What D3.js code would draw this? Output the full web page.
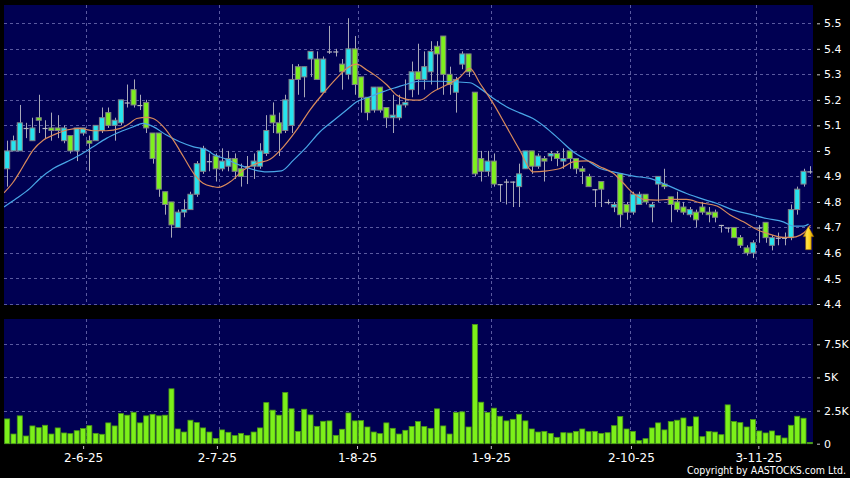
<!DOCTYPE html>
<html><head><meta charset="utf-8">
<script src="https://cdn.jsdelivr.net/npm/d3@7"></script>
<style>html,body{margin:0;padding:0;background:#000;}svg{display:block;}</style>
</head><body>
<svg id="c" width="850" height="478"></svg>
<script>
// ---------- DATA ----------
const dates = [
 '15-5-25','16-5-25','19-5-25','20-5-25','21-5-25','22-5-25','23-5-25','26-5-25','27-5-25','28-5-25','29-5-25','30-5-25',
 '2-6-25','3-6-25','4-6-25','5-6-25','6-6-25','9-6-25','10-6-25','11-6-25','12-6-25','13-6-25','16-6-25','17-6-25','18-6-25','19-6-25','20-6-25','23-6-25','24-6-25','25-6-25','26-6-25','27-6-25','30-6-25',
 '2-7-25','3-7-25','4-7-25','7-7-25','8-7-25','9-7-25','10-7-25','11-7-25','14-7-25','15-7-25','16-7-25','17-7-25','18-7-25','21-7-25','22-7-25','23-7-25','24-7-25','25-7-25','28-7-25','29-7-25','30-7-25','31-7-25',
 '1-8-25','4-8-25','5-8-25','6-8-25','7-8-25','8-8-25','11-8-25','12-8-25','13-8-25','14-8-25','15-8-25','18-8-25','19-8-25','20-8-25','21-8-25','22-8-25','25-8-25','26-8-25','27-8-25','28-8-25','29-8-25',
 '1-9-25','2-9-25','3-9-25','4-9-25','5-9-25','8-9-25','9-9-25','10-9-25','11-9-25','12-9-25','15-9-25','16-9-25','17-9-25','18-9-25','19-9-25','22-9-25','23-9-25','24-9-25','25-9-25','26-9-25','29-9-25','30-9-25',
 '2-10-25','3-10-25','6-10-25','8-10-25','9-10-25','10-10-25','13-10-25','14-10-25','15-10-25','16-10-25','17-10-25','20-10-25','21-10-25','22-10-25','23-10-25','24-10-25','27-10-25','28-10-25','30-10-25','31-10-25',
 '3-11-25','4-11-25','5-11-25','6-11-25','7-11-25','10-11-25','11-11-25','12-11-25','13-11-25','14-11-25'
];
const open = [4.93,5.00,5.00,5.09,5.04,5.13,5.09,5.09,5.09,5.04,5.06,5.00,5.07,5.04,5.04,5.08,5.15,5.10,5.11,5.19,
 5.24,5.18,5.19,5.07,5.07,4.84,4.80,4.70,4.76,4.77,4.83,4.92,4.96,4.98,4.93,4.94,4.97,4.93,4.94,4.94,
 4.94,4.99,5.14,5.11,5.08,5.10,5.33,5.29,5.36,5.36,5.23,5.39,5.39,5.34,5.30,5.40,5.29,5.21,5.16,5.25,
 5.17,5.13,5.13,5.18,5.24,5.31,5.28,5.31,5.41,5.45,5.30,5.23,5.34,5.38,5.23,4.97,4.92,4.96,4.87,4.88,
 4.88,4.86,4.93,5.00,4.94,4.97,4.98,4.99,4.96,5.00,4.97,4.93,4.90,4.85,4.88,4.80,4.78,4.91,4.79,4.76,
 4.79,4.83,4.78,4.87,4.87,4.82,4.80,4.78,4.75,4.76,4.78,4.76,4.76,4.71,4.70,4.70,4.66,4.62,4.60,4.70,
 4.72,4.63,4.66,4.66,4.66,4.77,4.87,4.92];
const high = [5.04,5.06,5.18,5.11,5.13,5.22,5.12,5.15,5.14,5.10,5.06,5.09,5.09,5.06,5.10,5.17,5.17,5.13,5.20,5.26,
 5.28,5.22,5.20,5.07,5.07,4.84,4.80,4.77,4.81,4.84,4.96,5.02,4.99,4.99,5.01,5.00,4.99,4.95,4.98,4.99,
 5.03,5.14,5.19,5.15,5.22,5.34,5.34,5.33,5.39,5.39,5.37,5.49,5.40,5.36,5.52,5.45,5.29,5.21,5.25,5.25,
 5.17,5.22,5.22,5.28,5.35,5.42,5.39,5.43,5.43,5.45,5.33,5.29,5.39,5.38,5.23,5.00,5.00,4.99,4.87,4.89,
 4.88,4.95,5.00,5.00,4.99,4.98,5.00,5.00,5.01,5.00,4.97,4.94,4.91,4.85,4.88,4.81,4.80,4.91,4.80,4.84,
 4.84,4.83,4.80,4.90,4.93,4.82,4.84,4.80,4.78,4.77,4.80,4.78,4.77,4.71,4.70,4.70,4.67,4.63,4.65,4.71,
 4.72,4.67,4.68,4.68,4.79,4.86,4.93,4.94];
const low = [4.86,5.00,5.00,5.05,5.04,5.07,5.05,5.04,5.05,5.03,4.99,4.96,5.06,4.92,5.04,5.07,5.09,5.04,5.10,5.17,
 5.17,5.16,5.07,4.95,4.82,4.75,4.66,4.70,4.74,4.77,4.82,4.91,4.92,4.88,4.92,4.92,4.89,4.86,4.87,4.89,
 4.93,4.98,5.07,4.98,5.07,5.07,5.22,5.21,5.29,5.28,5.23,5.38,5.37,5.24,5.28,5.22,5.15,5.12,5.15,5.15,
 5.09,5.07,5.12,5.17,5.21,5.22,5.24,5.26,5.24,5.22,5.22,5.15,5.32,5.29,4.90,4.88,4.90,4.86,4.80,4.79,
 4.78,4.78,4.93,4.91,4.93,4.88,4.96,4.94,4.93,4.93,4.91,4.87,4.86,4.78,4.78,4.79,4.76,4.70,4.73,4.75,
 4.79,4.79,4.72,4.80,4.85,4.72,4.76,4.75,4.74,4.70,4.75,4.72,4.72,4.68,4.68,4.66,4.62,4.59,4.58,4.64,
 4.64,4.61,4.63,4.63,4.65,4.75,4.86,4.91];
const close = [5.00,5.04,5.11,5.09,5.09,5.12,5.09,5.08,5.08,5.09,5.00,5.09,5.09,5.03,5.10,5.13,5.10,5.12,5.20,5.19,
 5.18,5.18,5.09,4.97,4.85,4.79,4.71,4.76,4.77,4.83,4.95,5.01,4.96,4.93,4.96,4.97,4.92,4.90,4.94,4.96,
 5.00,5.08,5.11,5.07,5.20,5.28,5.28,5.33,5.39,5.28,5.36,5.39,5.39,5.31,5.40,5.26,5.21,5.15,5.25,5.16,
 5.13,5.14,5.18,5.19,5.31,5.28,5.33,5.39,5.38,5.30,5.26,5.28,5.38,5.31,4.91,4.92,4.96,4.87,4.87,4.88,
 4.88,4.91,5.00,4.94,4.98,4.96,4.99,4.97,4.97,4.97,4.93,4.92,4.86,4.85,4.85,4.80,4.79,4.75,4.76,4.83,
 4.83,4.80,4.79,4.90,4.86,4.79,4.77,4.76,4.77,4.73,4.76,4.75,4.74,4.71,4.70,4.66,4.63,4.60,4.64,4.70,
 4.66,4.66,4.66,4.66,4.77,4.85,4.92,4.92];
const volume = [1870,730,2100,580,1340,1210,1390,730,1190,810,760,980,1140,1360,780,710,1570,1340,2270,2150,
 2370,1570,2100,2220,2100,2150,4140,1110,880,1770,1590,1190,880,400,1040,860,610,780,630,880,
 1190,3100,2530,2150,3860,2630,930,2600,2170,1310,1690,1720,630,1090,2320,1720,1740,1260,880,760,
 1570,1160,730,1010,1300,1670,1290,1160,2630,1340,730,2350,2400,1260,9000,3130,2350,2680,2070,1720,
 1840,2220,1720,1110,880,930,780,480,830,810,930,1110,910,930,780,830,1360,2050,1110,930,
 230,380,1190,1570,1040,1670,1770,1940,1310,2020,530,930,880,680,2930,1670,1590,1260,1820,960,
 810,960,610,430,1390,2070,1920,100];
// moving averages: [candle index, value]
const maShort = [[-0.5,4.836],[1.0,4.879],[2.0,4.918],[3.1,4.964],[4.1,5.003],[5.7,5.042],[7.3,5.062],[9.4,5.082],[11.5,5.088],[13.6,5.079],[15.7,5.079],[17.9,5.088],[19.4,5.108],[20.5,5.127],[22.1,5.131],[23.1,5.127],[24.7,5.095],[26.3,5.042],[27.9,4.977],[29.5,4.912],[31.0,4.873],[32.6,4.86],[33.4,4.857],[35.3,4.879],[37.4,4.925],[39.5,4.951],[41.6,4.967],[43.7,5.016],[45.8,5.082],[47.9,5.16],[50.0,5.225],[52.1,5.284],[53.7,5.323],[55.3,5.34],[56.9,5.317],[58.5,5.291],[60.1,5.258],[61.6,5.219],[63.2,5.202],[64.3,5.199],[65.3,5.199],[67.4,5.232],[69.5,5.258],[71.6,5.288],[73.2,5.323],[74.8,5.265],[76.9,5.186],[79.0,5.095],[81.1,5.003],[83.2,4.918],[85.4,4.922],[87.5,4.931],[89.6,4.957],[91.7,4.961],[93.8,4.938],[95.9,4.912],[97.5,4.873],[99.1,4.833],[100.7,4.81],[102.8,4.807],[104.9,4.81],[107.5,4.81],[109.6,4.797],[112.3,4.784],[114.4,4.749],[116.5,4.722],[118.6,4.692],[120.7,4.673],[122.8,4.661],[124.1,4.661],[125.5,4.670],[126.5,4.689],[127.1,4.709]];
const maLong = [[-0.5,4.78],[1.5,4.814],[3.6,4.853],[5.2,4.892],[7.3,4.931],[9.4,4.957],[11.5,4.984],[13.6,5.016],[15.7,5.049],[17.9,5.075],[20.0,5.095],[21.5,5.108],[23.1,5.095],[25.2,5.062],[27.3,5.036],[29.5,5.016],[31.6,5.003],[32.6,4.987],[34.7,4.967],[36.8,4.944],[38.9,4.927],[41.1,4.918],[43.4,4.922],[45.3,4.964],[47.4,5.016],[49.5,5.075],[51.6,5.118],[53.7,5.16],[55.3,5.193],[57.4,5.212],[59.5,5.232],[61.6,5.249],[63.7,5.265],[65.3,5.273],[68.5,5.273],[73.2,5.267],[74.8,5.245],[76.9,5.206],[79.0,5.173],[81.1,5.149],[83.2,5.127],[85.4,5.088],[87.5,5.042],[89.6,4.996],[91.7,4.964],[93.8,4.931],[95.9,4.918],[97.0,4.912],[99.1,4.901],[101.7,4.892],[104.4,4.866],[107.5,4.833],[110.2,4.81],[112.3,4.794],[114.9,4.768],[117.5,4.752],[120.2,4.735],[122.8,4.722],[124.4,4.705],[126.0,4.705],[126.8,4.713]];
const priceTicks = [4.4,4.5,4.6,4.7,4.8,4.9,5.0,5.1,5.2,5.3,5.4,5.5];
const volumeTicks = [0,2500,5000,7500];
const volumeTickLabels = ['0','2.5K','5K','7.5K'];
const arrowPrice = 4.705;

// ---------- CHART ----------
const svg = d3.select('#c');
const FONT = "'DejaVu Sans', Verdana, sans-serif";
const P = {l:4, r:813, t:5, b:305};
const V = {t:319, b:444};
const N = dates.length;
const x = d3.scaleBand().domain(d3.range(N)).range([P.l, P.r]).paddingInner(0.2).paddingOuter(0.1);
const step = x.step(), bw = x.bandwidth();
const cx = i => x(i) + bw/2;
const xi = d3.scaleLinear().domain([0, N-1]).range([cx(0), cx(N-1)]);
// date-label positions (the source places its labels on a slightly wider grid)
const xLab = d3.scaleBand().domain(d3.range(N-1)).range([P.l, P.r]);
const y = d3.scaleLinear().domain([4.4, 5.5]).range([304, 23.3]);
const yv = d3.scaleLinear().domain([0, 7500]).range([443.7, 344.3]);

const navy = '#000052';
const gridC = '#5a5aa0';
svg.append('rect').attr('width',850).attr('height',478).attr('fill','#000');
svg.append('rect').attr('x',P.l).attr('y',P.t).attr('width',P.r-P.l).attr('height',P.b-P.t).attr('fill',navy);
svg.append('rect').attr('x',P.l).attr('y',V.t).attr('width',P.r-P.l).attr('height',V.b-V.t).attr('fill',navy);

const defs = svg.append('defs');
defs.append('clipPath').attr('id','cp').append('rect').attr('x',P.l).attr('y',P.t).attr('width',P.r-P.l).attr('height',P.b-P.t);
const g = defs.append('linearGradient').attr('id','ag').attr('x1','0').attr('x2','1').attr('y1','0').attr('y2','0');
[['0','#b87a00'],['0.35','#ffe24a'],['0.6','#ffd21a'],['1','#c08400']].forEach(s=>g.append('stop').attr('offset',s[0]).attr('stop-color',s[1]));

// month-start indices
const monthStarts = d3.range(1, N).filter(i => dates[i].split('-')[1] !== dates[i-1].split('-')[1]);

// grid
const grid = svg.append('g').attr('stroke',gridC).attr('stroke-width',1).attr('stroke-dasharray','3,3').attr('shape-rendering','crispEdges');
priceTicks.forEach(p => grid.append('line').attr('x1',P.l).attr('x2',P.r).attr('y1',Math.round(y(p))+0.5).attr('y2',Math.round(y(p))+0.5));
volumeTicks.slice(1).forEach(v => grid.append('line').attr('x1',P.l).attr('x2',P.r).attr('y1',Math.round(yv(v))+0.5).attr('y2',Math.round(yv(v))+0.5));
monthStarts.forEach(i => {
  const gx = Math.round(cx(i) + step/2) + 0.5;
  grid.append('line').attr('x1',gx).attr('x2',gx).attr('y1',P.t).attr('y2',P.b);
  grid.append('line').attr('x1',gx).attr('x2',gx).attr('y1',V.t).attr('y2',V.b);
});

// candles
const cg = svg.append('g').attr('clip-path','url(#cp)');
const idx = d3.range(N);
cg.selectAll('line.w').data(idx).join('line')
  .attr('x1',i=>Math.round(cx(i))+0.5).attr('x2',i=>Math.round(cx(i))+0.5)
  .attr('y1',i=>y(high[i])).attr('y2',i=>y(low[i]))
  .attr('stroke','#a8a8b8').attr('stroke-width',1);
cg.selectAll('rect.b').data(idx).join('rect')
  .attr('x',i=>x(i)).attr('width',bw)
  .attr('y',i=>y(Math.max(open[i],close[i])))
  .attr('height',i=>Math.max(1.2, Math.abs(y(open[i])-y(close[i]))))
  .attr('fill',i=> close[i]>open[i] ? '#26e4ee' : (close[i]<open[i] ? '#7ef01e' : '#b8b8c0'))
  .attr('stroke',i=> close[i]===open[i] ? 'none' : '#808088').attr('stroke-width',1);

// moving averages
const line = d3.line().x(d=>xi(d[0])).y(d=>y(d[1])).curve(d3.curveMonotoneX);
cg.append('path').datum(maLong).attr('d',line).attr('fill','none').attr('stroke','#49a6e6').attr('stroke-width',1.2);
cg.append('path').datum(maShort).attr('d',line).attr('fill','none').attr('stroke','#d98a5c').attr('stroke-width',1.2);

// arrow annotation
const ax = cx(N-1) - 1.5, ay = y(arrowPrice);
svg.append('path')
  .attr('d',`M${ax},${ay} L${ax+5.5},${ay+10.5} L${ax+3},${ay+10.5} L${ax+3},${ay+23.5} L${ax-2.8},${ay+23.5} L${ax-2.8},${ay+10.5} L${ax-5.3},${ay+10.5} Z`)
  .attr('fill','url(#ag)').attr('stroke','#8a5a00').attr('stroke-width',0.5);

// volume bars
svg.append('g').selectAll('rect').data(idx).join('rect')
  .attr('x',i=>x(i)).attr('width',bw)
  .attr('y',i=>yv(volume[i])).attr('height',i=>yv(0)-yv(volume[i]))
  .attr('fill','#7cf01a').attr('stroke','#4a9a14').attr('stroke-width',0.8);

// axes
const styleAxis = (size) => sel => {
  sel.select('.domain').remove();
  sel.selectAll('text').attr('fill','#fff').style('font-family',FONT).style('font-size',size);
  sel.selectAll('line').attr('stroke','#c8c8c8');
};
svg.append('g').attr('transform','translate(817,0)')
  .call(d3.axisRight(y).tickValues(priceTicks).tickSize(3).tickPadding(4).tickFormat(d=>String(+d.toFixed(1))))
  .call(styleAxis('11px'));
svg.append('g').attr('transform','translate(817,0)')
  .call(d3.axisRight(yv).tickValues(volumeTicks).tickSize(3).tickPadding(4).tickFormat((d,k)=>volumeTickLabels[k]))
  .call(styleAxis('11px'));
svg.append('g').attr('transform',`translate(0,${V.b+2})`)
  .call(d3.axisBottom(xLab).tickValues(monthStarts).tickSize(3).tickPadding(4).tickFormat(i=>dates[i]))
  .call(styleAxis('12px'));

svg.append('text').attr('x',846).attr('y',473.5).attr('text-anchor','end')
  .attr('fill','#fff').style('font-family',"'DejaVu Sans Condensed','Liberation Sans Narrow','DejaVu Sans',sans-serif").style('font-size','10.5px')
  .text('Copyright by AASTOCKS.com Ltd.');
</script>
</body></html>
